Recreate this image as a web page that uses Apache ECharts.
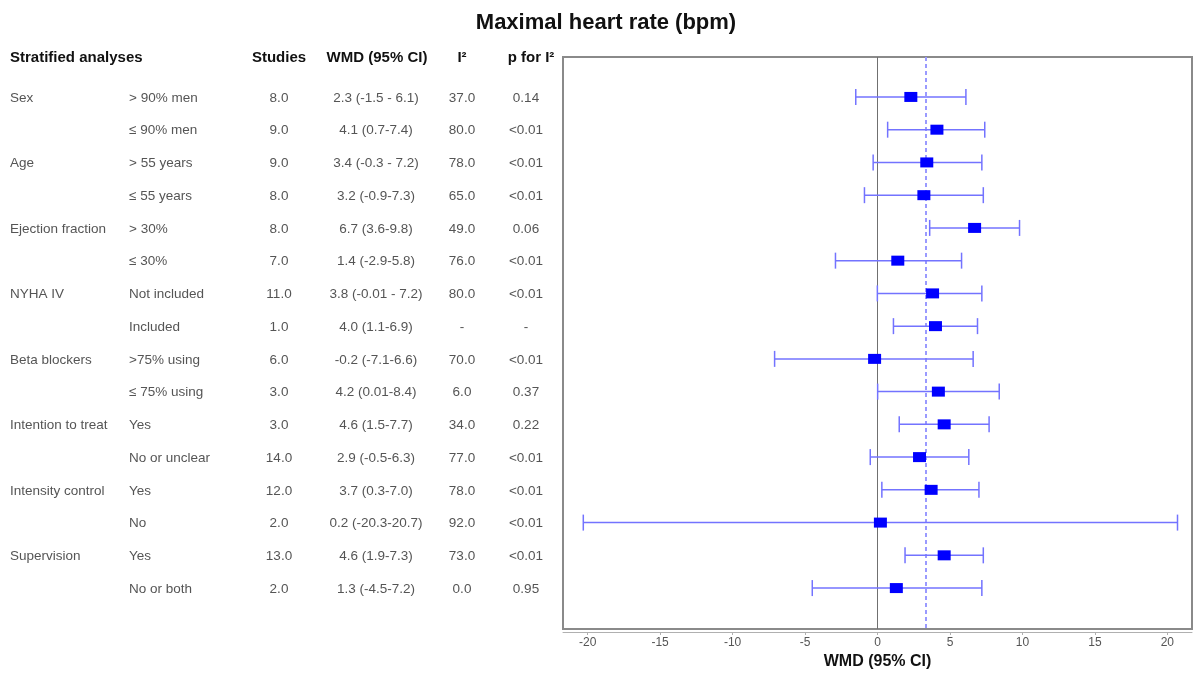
<!DOCTYPE html>
<html>
<head>
<meta charset="utf-8">
<title>Maximal heart rate (bpm)</title>
<script src="https://cdn.jsdelivr.net/npm/echarts@6/dist/echarts.min.js"></script>
<style>
  html, body { margin: 0; padding: 0; background: #fff; }
  #chart { width: 1201px; height: 680px; }
</style>
</head>
<body>
<div id="chart"></div>
<script>
// Stratified subgroup results for maximal heart rate
const groups     = ['Sex', '', 'Age', '', 'Ejection fraction', '', 'NYHA IV', '', 'Beta blockers', '', 'Intention to treat', '', 'Intensity control', '', 'Supervision', ''];
const subgroups  = ['> 90% men', '\u2264 90% men', '> 55 years', '\u2264 55 years', '> 30%', '\u2264 30%', 'Not included', 'Included', '>75% using', '\u2264 75% using', 'Yes', 'No or unclear', 'Yes', 'No', 'Yes', 'No or both'];
const studies    = ['8.0', '9.0', '9.0', '8.0', '8.0', '7.0', '11.0', '1.0', '6.0', '3.0', '3.0', '14.0', '12.0', '2.0', '13.0', '2.0'];
const wmdText    = ['2.3 (-1.5 - 6.1)', '4.1 (0.7-7.4)', '3.4 (-0.3 - 7.2)', '3.2 (-0.9-7.3)', '6.7 (3.6-9.8)', '1.4 (-2.9-5.8)', '3.8 (-0.01 - 7.2)', '4.0 (1.1-6.9)', '-0.2 (-7.1-6.6)', '4.2 (0.01-8.4)', '4.6 (1.5-7.7)', '2.9 (-0.5-6.3)', '3.7 (0.3-7.0)', '0.2 (-20.3-20.7)', '4.6 (1.9-7.3)', '1.3 (-4.5-7.2)'];
const i2Text     = ['37.0', '80.0', '78.0', '65.0', '49.0', '76.0', '80.0', '-', '70.0', '6.0', '34.0', '77.0', '78.0', '92.0', '73.0', '0.0'];
const pText      = ['0.14', '<0.01', '<0.01', '<0.01', '0.06', '<0.01', '<0.01', '-', '<0.01', '0.37', '0.22', '<0.01', '<0.01', '<0.01', '<0.01', '0.95'];
const estimate   = [2.3, 4.1, 3.4, 3.2, 6.7, 1.4, 3.8, 4.0, -0.2, 4.2, 4.6, 2.9, 3.7, 0.2, 4.6, 1.3];
const lower      = [-1.5, 0.7, -0.3, -0.9, 3.6, -2.9, -0.01, 1.1, -7.1, 0.01, 1.5, -0.5, 0.3, -20.3, 1.9, -4.5];
const upper      = [6.1, 7.4, 7.2, 7.3, 9.8, 5.8, 7.2, 6.9, 6.6, 8.4, 7.7, 6.3, 7.0, 20.7, 7.3, 7.2];
const pooledWMD  = 3.3;
const xTicks     = [-20, -15, -10, -5, 0, 5, 10, 15, 20];

const FONT = '"Liberation Sans", Arial, sans-serif';
const TEXT_GRAY = '#555555';

const chart = echarts.init(document.getElementById('chart'), null, { renderer: 'canvas' });

const rows = estimate.map((v, i) => [v, i, lower[i], upper[i]]);

// table columns: [pixel x, align, source array]
const columns = [
  [10, 'left', groups],
  [129, 'left', subgroups],
  [279, 'center', studies],
  [376, 'center', wmdText],
  [462, 'center', i2Text],
  [526, 'center', pText]
];

const headers = [
  [10, 'left', 'Stratified analyses'],
  [279, 'center', 'Studies'],
  [377, 'center', 'WMD (95% CI)'],
  [462, 'center', 'I\u00b2'],
  [531, 'center', 'p for I\u00b2']
];

const option = {
  animation: false,
  backgroundColor: '#ffffff',
  title: {
    text: 'Maximal heart rate (bpm)',
    left: 601,
    textAlign: 'center',
    top: 7,
    textStyle: { fontFamily: FONT, fontWeight: 'bold', fontSize: 22, color: '#111' }
  },
  graphic: headers.map(h => ({
    type: 'text',
    x: h[0],
    y: 58,
    style: {
      text: h[2], fontFamily: FONT, fontWeight: 'bold', fontSize: 15,
      fill: '#111', align: h[1], verticalAlign: 'middle'
    }
  })),
  grid: {
    left: 563, top: 57, width: 629, height: 572,
    show: true, borderColor: '#8a8a8a', borderWidth: 2, backgroundColor: 'transparent'
  },
  xAxis: {
    type: 'value',
    min: -21.7,
    max: 21.7,
    offset: 3,
    splitLine: { show: false },
    axisLine: { show: true, onZero: false, lineStyle: { color: '#b0b0b0', width: 1 } },
    axisTick: { show: true, length: 3, customValues: xTicks, lineStyle: { color: '#b0b0b0' } },
    axisLabel: { customValues: xTicks, margin: 5, fontFamily: FONT, fontSize: 12, color: TEXT_GRAY },
    name: 'WMD (95% CI)',
    nameLocation: 'middle',
    nameGap: 22,
    nameTextStyle: { fontFamily: FONT, fontWeight: 'bold', fontSize: 16, color: '#111' }
  },
  yAxis: {
    type: 'value',
    inverse: true,
    min: -1.22,
    max: 16.25,
    show: false,
    splitLine: { show: false }
  },
  series: [
    {
      // reference lines: no effect and pooled estimate
      type: 'line',
      data: [],
      z: 1,
      markLine: {
        silent: true,
        symbol: 'none',
        label: { show: false },
        z: 1,
        data: [
          { xAxis: 0, lineStyle: { color: '#707070', width: 1, type: 'solid' } },
          { xAxis: pooledWMD, lineStyle: { color: '#9a9aff', width: 2, type: [4, 3] } }
        ]
      }
    },
    {
      // confidence interval whiskers with end caps
      type: 'custom',
      clip: false,
      data: rows,
      z: 3,
      renderItem: function (params, api) {
        const y = api.value(1);
        const a = api.coord([api.value(2), y]);
        const b = api.coord([api.value(3), y]);
        const cap = 8;
        const style = { stroke: '#7373ff', lineWidth: 1.5 };
        return {
          type: 'group',
          children: [
            { type: 'line', shape: { x1: a[0], y1: a[1], x2: b[0], y2: b[1] }, style: style },
            { type: 'line', shape: { x1: a[0], y1: a[1] - cap, x2: a[0], y2: a[1] + cap }, style: style },
            { type: 'line', shape: { x1: b[0], y1: b[1] - cap, x2: b[0], y2: b[1] + cap }, style: style }
          ]
        };
      }
    },
    {
      // point estimates
      type: 'scatter',
      data: rows.map(r => [r[0], r[1]]),
      symbol: 'rect',
      symbolSize: [13, 10],
      itemStyle: { color: '#0000ff', opacity: 1 },
      z: 10
    },
    {
      // table text aligned to each row on the y axis
      type: 'custom',
      clip: false,
      silent: true,
      data: rows.map((r, i) => [0, i]),
      renderItem: function (params, api) {
        const i = params.dataIndex;
        const y = api.coord([0, api.value(1)])[1];
        return {
          type: 'group',
          children: columns.map(c => ({
            type: 'text',
            x: c[0],
            y: y + 1,
            style: {
              text: c[2][i], fontFamily: FONT, fontSize: 13.5, fill: TEXT_GRAY,
              align: c[1], verticalAlign: 'middle'
            }
          }))
        };
      }
    }
  ]
};

chart.setOption(option);
</script>
</body>
</html>
